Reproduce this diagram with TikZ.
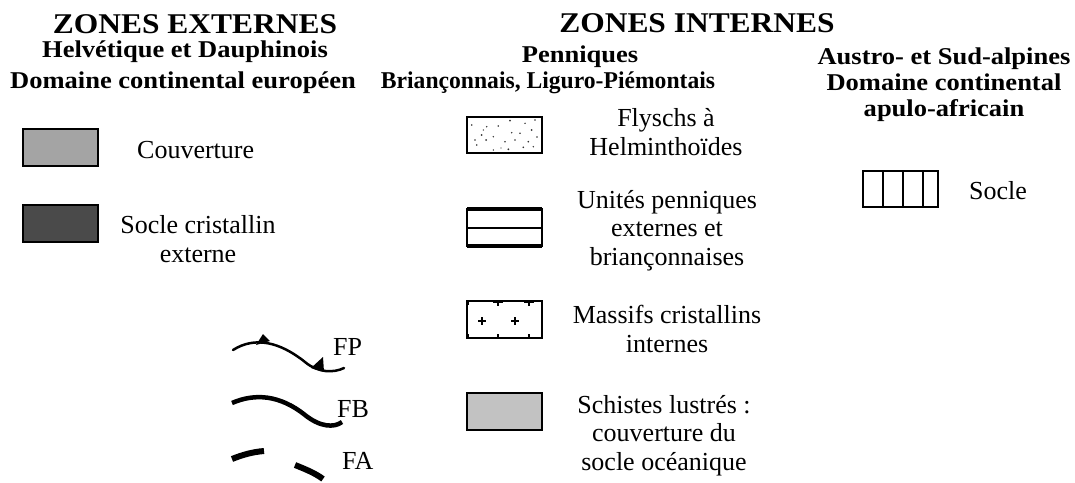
\documentclass[tikz,border=0pt]{standalone}
\usepackage{fontspec}
\setmainfont{Liberation Serif}
\newfontfamily\widebf[FakeStretch=1.1]{Liberation Serif}
\newfontfamily\narrowbf[FakeStretch=0.98]{Liberation Serif}
\usetikzlibrary{calc}
\definecolor{couvc}{HTML}{A4A4A4}
\definecolor{soclec}{HTML}{4A4A4A}
\definecolor{schc}{HTML}{C2C2C2}
\begin{document}
\begin{tikzpicture}[x=1pt,y=-1pt,
  head/.style={font=\widebf\bfseries\fontsize{28.6}{33}\selectfont, anchor=base, inner sep=0pt},
  sub/.style={font=\widebf\bfseries\fontsize{24.1}{26}\selectfont, anchor=base, inner sep=0pt, align=center},
  lbl/.style={font=\fontsize{26}{28.5}\selectfont, anchor=base, inner sep=0pt, align=center},
  keybox/.style={draw=black, line width=2.2pt, minimum width=75pt, minimum height=37pt, inner sep=0pt, outer sep=0pt, anchor=north west},
  fault/.style={line width=2.5pt, line cap=round},
  dotc/.style={fill=black!80},
]
\useasboundingbox (0,0) rectangle (1075,482);

% ---------- ZONES EXTERNES ----------
\node[head] (ze) at (195,33) {ZONES EXTERNES};
\node[sub] (helv) at (185,57) {Helvétique et Dauphinois};
\node[sub] (dce) at (183,88) {Domaine continental européen};

\node[keybox, fill=couvc] (couv) at (23,129) {};
\node[lbl, anchor=base west] (tcouv) at (137,158) {Couverture};

\node[keybox, fill=soclec] (socle) at (23,205) {};
\node[lbl] (tsocle) at (198,262) {Socle cristallin\\externe};

% faults
\draw[fault] (233,350) .. controls (255,336) and (280,342) .. (305,362) .. controls (318,373) and (334,373) .. (344,368);
\fill (256,345) -- (270,341) -- (263,334) -- cycle;
\fill (311,368) -- (324,372) -- (323,357) -- cycle;
\node[lbl, anchor=base west] (fp) at (333,355) {FP};

\draw[fault, line width=4.5pt, line cap=butt] (232,403) .. controls (255,393) and (280,395) .. (305,415) .. controls (320,427) and (334,428) .. (342,422);
\node[lbl, anchor=base west] (fb) at (337,417) {FB};

\draw[line width=6pt] (232,459) .. controls (242,455) and (252,452) .. (264,451);
\draw[line width=6pt] (295,465) .. controls (305,469) and (315,473) .. (323,479);
\node[lbl, anchor=base west] (fa) at (342,469) {FA};

% ---------- ZONES INTERNES ----------
\node[head] (zi) at (697,32) {ZONES INTERNES};
\node[sub] (penn) at (580,62) {Penniques};
\node[sub, font=\narrowbf\bfseries\fontsize{24.1}{26}\selectfont] (brian) at (548,88) {Briançonnais, Liguro-Piémontais};

% Flyschs
\node[keybox, minimum height=36pt] (flysch) at (467,117) {};
\foreach \dx/\dy/\r in {4.7/8/0.9, 19.7/9.7/0.8, 31.3/9/0.9, 43/3.7/1.0, 58/6.3/0.8, 68/3/0.9,
  14.7/18/1.0, 26.3/19.7/0.8, 53/16.3/0.9, 64.7/13/1.0, 8/23/0.8, 19/23/1.0, 38/24.7/0.9,
  44.7/15.7/0.8, 61.3/24.7/0.9, 9.7/28/0.9, 41.3/32.3/1.0, 26.3/33/0.8, 56.3/30.3/0.9,
  66.3/29.7/0.8, 48/23/0.8, 16.3/13/0.7, 34/31/0.7, 70/20/0.8}
  \fill[dotc] ($(flysch.north west)+(\dx,\dy)$) circle (\r pt);
\node[lbl] (tfly) at (666,155) {Flyschs à\\Helminthoïdes};

% Unites penniques
\node[keybox] (unites) at (467,209) {};
\draw[line width=3.2pt] (unites.north west) -- (unites.north east);
\draw[line width=3.2pt] (unites.south west) -- (unites.south east);
\draw[line width=2pt] (unites.west) -- (unites.east);
\node[lbl] (tuni) at (667,265) {Unités penniques\\externes et\\briançonnaises};

% Massifs cristallins
\node[keybox] (massifs) at (467,301) {};
\foreach \dx in {31,62} {
  \draw[line width=3pt] ($(massifs.north west)+(\dx-5,0)$) -- ($(massifs.north west)+(\dx+5,0)$);
  \draw[line width=1.5pt] ($(massifs.north west)+(\dx,0)$) -- ($(massifs.north west)+(\dx,5)$);
  \draw[line width=1.5pt] ($(massifs.south west)+(\dx,0)$) -- ($(massifs.south west)+(\dx,-4)$);
}
\draw[line width=1.5pt] ($(massifs.north west)+(1.5,0)$) -- ($(massifs.north west)+(1.5,4)$);
\draw[line width=1.5pt] ($(massifs.south west)+(1.5,0)$) -- ($(massifs.south west)+(1.5,-4)$);
\foreach \dx in {15,48} {
  \draw[line width=1.5pt] ($(massifs.north west)+(\dx-4,20)$) -- ($(massifs.north west)+(\dx+4,20)$);
  \draw[line width=1.5pt] ($(massifs.north west)+(\dx,16)$) -- ($(massifs.north west)+(\dx,24)$);
}
\node[lbl] (tmas) at (667,352) {Massifs cristallins\\internes};

% Schistes lustres
\node[keybox, fill=schc] (schistes) at (467,393) {};
\node[lbl] (tsch) at (664,470) {Schistes lustrés :\\couverture du\\socle océanique};

% ---------- Austro- et Sud-alpines ----------
\node[sub] (austro) at (944,116) {Austro- et Sud-alpines\\Domaine continental\\apulo-africain};
\node[keybox, minimum height=36pt] (socleaa) at (863,171) {};
\foreach \dx in {20,40,60}
  \draw[line width=2.2pt] ($(socleaa.north west)+(\dx,0)$) -- ($(socleaa.south west)+(\dx,0)$);
\node[lbl] (tsaa) at (998,199) {Socle};
\end{tikzpicture}
\end{document}
